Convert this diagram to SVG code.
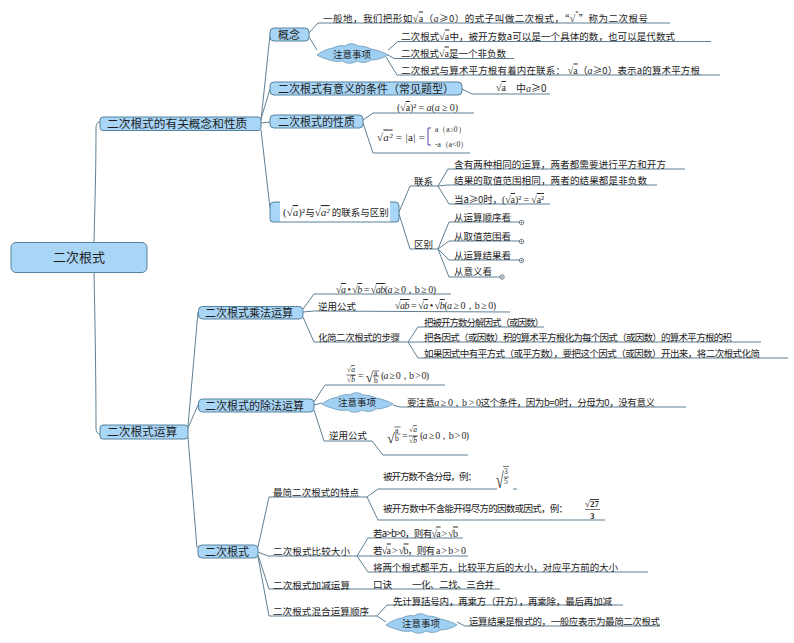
<svg xmlns="http://www.w3.org/2000/svg" width="794" height="643" viewBox="0 0 794 643">
<style>
text{font-family:"Noto Sans CJK SC","Liberation Sans",sans-serif;font-size:9.500px;fill:#1c1c1c}
.m{font-family:"Liberation Serif",serif;font-size:10px;fill:#2a2a2a}
.i{font-style:italic}
.o{text-decoration:overline}
.s7{font-size:7.500px}
.n1{font-size:11.700px}
.n2{font-size:11px}
.root{font-size:13px}
.box{fill:#a9d5f6;stroke:#55829e;stroke-width:1}
.cloud{fill:#9fd0f3;stroke:#6b96b4;stroke-width:.8}
#connectors path{fill:none;stroke:#5f7f93;stroke-width:1}
.dot{fill:#fff;stroke:#44586a;stroke-width:.8}
.mk{fill:#44586a}
.rl{stroke:#333;stroke-width:.7;fill:none}
</style>
<defs>
<path id="c" d="M0 12C5 8 10 6 16 5C20 3 24 2 28 3C32 0 37 0 41 3C46 3 50 4 54 6C60 7 66 9 71 12C66 15 60 17 54 17C50 20 44 20 40 18C35 21 30 21 26 18C20 19 14 18 10 16C6 15 3 14 0 12Z"/>
</defs>
<rect width="794" height="643" fill="#fff"/>
<g id="connectors">
<path d="M94 242C95 200 96 170 96 128Q96 122 100 122"/>
<path d="M94 272C95 320 96 380 96 428Q96 434 100 434"/>
<path d="M261 120L270 35M261 119L270 89M261 123L270 122M261 130L270 208"/>
<path d="M309 33L318 23H670M309 37L317 50"/>
<path d="M388 50L398 41.500H711M388 55L394 58.500H514M386 57L397 75H720"/>
<path d="M462 89L472 94H550"/>
<path d="M363 120L373 113H474M363 123L373 153H470"/>
<path d="M399 212L410 186H438L448 169H685M438 186L448 185H657M438 186L449 204H550"/>
<path d="M399 214L410 249H438L449 222H520M438 249L449 241H520M438 249L449 260H520M438 249L449 277H500"/>
<path d="M188 426L198 312M188 428L198 405M188 437L197 548"/>
<path d="M303 309L314 294H451M303 312L314 311L510 312M303 317L314 342H408"/>
<path d="M408 342L418 327H544M408 342L418 342H761M408 342L418 358H788"/>
<path d="M314 402L325 385H445M314 405L322 403M393 405L400 407H686"/>
<path d="M314 410L324 441H372L383 455H468"/>
<path d="M258 547L269 497H367L378 489H497M513 489H517M367 497L378 520H605"/>
<path d="M258 552L268 556H357L368 538H463M357 556L368 556H468M357 556L368 572H648"/>
<path d="M258 555L269 589H500M258 557L269 616H377L387 605H623M377 616L386 622M457 622L465 626H660"/>
</g>
<g id="root"><rect class="box" x="11" y="242.500" width="136" height="30" rx="5"/><text class="root" x="79" y="262" text-anchor="middle">二次根式</text></g>
<g id="n-gainian-xingzhi"><rect class="box" x="100" y="117" width="161" height="13.500" rx="3"/><text class="n1" x="107" y="128">二次根式的有关概念和性质</text></g>
<g id="n-yunsuan"><rect class="box" x="100" y="425" width="88" height="14" rx="3"/><text class="n1" x="107" y="436">二次根式运算</text></g>
<g id="n-gainian"><rect class="box" x="270" y="28" width="39" height="13" rx="4"/><text x="278" y="38.500" class="n2">概念</text></g>
<g id="c-1"><use href="#c" class="cloud" transform="translate(317 43)"/><text x="333" y="57.500">注意事项</text></g>
<g id="t-1"><text x="323" y="21.500" textLength="325">一般地，我们把形如<tspan class="m">√<tspan class="o">a</tspan></tspan>（<tspan class="m i">a</tspan>≥0）的式子叫做二次根式，“<tspan class="m">√<tspan class="o">  </tspan></tspan>”称为二次根号</text></g>
<g id="t-2"><text x="401" y="39.500" textLength="274">二次根式<tspan class="m">√<tspan class="o">a</tspan></tspan>中，被开方数a可以是一个具体的数，也可以是代数式</text></g>
<g id="t-3"><text x="401" y="56.500" textLength="105">二次根式<tspan class="m">√<tspan class="o">a</tspan></tspan>是一个非负数</text></g>
<g id="t-4"><text x="401" y="73.500" textLength="299">二次根式与算术平方根有着内在联系：<tspan class="m"> √<tspan class="o">a</tspan></tspan>（<tspan class="m i">a</tspan>≥0）表示a的算术平方根</text></g>
<g id="n-tiaojian"><rect class="box" x="270" y="82" width="192" height="13" rx="4"/><text class="n2" x="278" y="92.500">二次根式有意义的条件（常见题型）</text></g>
<g id="t-5"><text class="m" x="496" y="91">√<tspan class="o">a</tspan></text><text x="516" y="91.500" style="font-size:10px">中<tspan class="m i">a</tspan>≥0</text></g>
<g id="n-xingzhi"><rect class="box" x="270" y="115" width="93" height="13" rx="4"/><text class="n2" x="278" y="125.500">二次根式的性质</text></g>
<g id="t-6"><text class="m" x="397" y="111" textLength="61">(√<tspan class="o">a</tspan>)² = <tspan class="i">a</tspan>(<tspan class="i">a</tspan> ≥ 0)</text></g>
<g id="t-7"><text class="m" x="377" y="140.500" textLength="48" style="font-size:11px">√<tspan class="o i">a²</tspan> = |a| =</text><path d="M431 128H428V145H431" fill="none" stroke="#5b3fa8" stroke-width="1"/><text class="m s7" x="435" y="132">a（a≥0）</text><text class="m s7" x="435" y="146.500">-a（a&lt;0）</text></g>
<g id="n-lianxi-qubie"><path class="box" d="M270 222V206Q270 202 274 202H280V222ZM399 222V206Q399 202 395 202H390V222Z" style="stroke:none"/><path d="M280 202H274Q270 202 270 206V219Q270 222 273 222H396Q399 222 399 219V206Q399 202 395 202H390" fill="none" stroke="#55829e"/><text x="283" y="216"><tspan class="m" style="font-size:11px">(√<tspan class="o i">a</tspan>)²</tspan>与<tspan class="m" style="font-size:11px">√<tspan class="o i">a²</tspan></tspan> 的联系与区别</text></g>
<g id="t-lianxi"><text x="414" y="184.500">联系</text></g>
<g id="t-qubie"><text x="414" y="247.500">区别</text></g>
<g id="t-8"><text x="454" y="167.500" textLength="212">含有两种相同的运算，两者都需要进行平方和开方</text></g>
<g id="t-9"><text x="454" y="184" textLength="193">结果的取值范围相同，两者的结果都是非负数</text></g>
<g id="t-10"><text x="454" y="203" textLength="90">当a≥0时，<tspan class="m">(√<tspan class="o">a</tspan>)² = √<tspan class="o">a²</tspan></tspan></text></g>
<g id="t-11"><text x="454" y="220.500">从运算顺序看</text><circle class="dot" cx="521.500" cy="222.500" r="2.200"/><circle class="mk" cx="521.500" cy="222.500" r=".8"/></g>
<g id="t-12"><text x="454" y="239.500">从取值范围看</text><circle class="dot" cx="521.500" cy="241.500" r="2.200"/><circle class="mk" cx="521.500" cy="241.500" r=".8"/></g>
<g id="t-13"><text x="454" y="258.500">从运算结果看</text><circle class="dot" cx="521.500" cy="260.500" r="2.200"/><circle class="mk" cx="521.500" cy="260.500" r=".8"/></g>
<g id="t-14"><text x="454" y="274.500">从意义看</text><circle class="dot" cx="502" cy="277" r="2.200"/><circle class="mk" cx="502" cy="277" r=".8"/></g>
<g id="n-chengfa"><rect class="box" x="198.500" y="306.500" width="104.500" height="12.500" rx="4"/><text class="n2" x="205" y="316.500">二次根式乘法运算</text></g>
<g id="t-15"><text class="m" x="336" y="293" textLength="100">√<tspan class="o i">a</tspan> • √<tspan class="o i">b</tspan> = √<tspan class="o i">ab</tspan>(<tspan class="i">a</tspan> ≥ 0，b ≥ 0)</text></g>
<g id="t-16"><text x="318" y="309.500">逆用公式</text><text class="m" x="395" y="309" textLength="101">√<tspan class="o i">ab</tspan> = √<tspan class="o i">a</tspan> • √<tspan class="o i">b</tspan>(<tspan class="i">a</tspan> ≥ 0，b ≥ 0)</text></g>
<g id="t-17"><text x="318" y="341" textLength="82">化简二次根式的步骤</text></g>
<g id="t-18"><text x="424" y="325.500" textLength="120">把被开方数分解因式（或因数）</text></g>
<g id="t-19"><text x="424" y="340.500" textLength="308">把各因式（或因数）积的算术平方根化为每个因式（或因数）的算术平方根的积</text></g>
<g id="t-20"><text x="424" y="356.500" textLength="336">如果因式中有平方式（或平方数），要把这个因式（或因数）开出来，将二次根式化简</text></g>
<g id="n-chufa"><rect class="box" x="198.500" y="399" width="115.500" height="13" rx="4"/><text class="n2" x="205" y="409.500">二次根式的除法运算</text></g>
<g id="t-21"><text class="m s7" x="347" y="372">√<tspan class="o i">a</tspan></text><path class="rl" d="M346.500 375H356"/><text class="m s7" x="347" y="382">√<tspan class="o i">b</tspan></text><text class="m" x="358" y="379">=</text><text class="m" x="365.500" y="382" style="font-size:14px">√</text><path class="rl" d="M373 371H379M373 376H379"/><text class="m s7" x="374" y="375.500">a</text><text class="m s7" x="374" y="382.500">b</text><text class="m" x="381" y="379" textLength="48">(<tspan class="i">a</tspan> ≥ 0，b &gt; 0)</text></g>
<g id="c-2"><use href="#c" class="cloud" transform="translate(322 392)"/><text x="338" y="406">注意事项</text></g>
<g id="t-22"><text x="407" y="405.500" textLength="248">要注意<tspan class="m i">a</tspan><tspan class="m"> ≥ 0，b &gt; 0</tspan>这个条件，因为b=0时，分母为0，没有意义</text></g>
<g id="t-23"><text x="329" y="438.500">逆用公式</text><text class="m" x="387" y="443" style="font-size:14px">√</text><path class="rl" d="M394.500 427H400.500M394.500 434H400.500"/><text class="m s7" x="395" y="433">a</text><text class="m s7" x="395" y="441">b</text><text class="m" x="402" y="439">=</text><text class="m s7" x="409" y="432">√<tspan class="o i">a</tspan></text><path class="rl" d="M408.500 436H418"/><text class="m s7" x="409" y="443">√<tspan class="o i">b</tspan></text><text class="m" x="420" y="439" textLength="49">(<tspan class="i">a</tspan> ≥ 0，b &gt; 0)</text></g>
<g id="n-genshi"><rect class="box" x="198" y="545" width="60" height="13" rx="4"/><text class="n2" x="205" y="555.500">二次根式</text></g>
<g id="t-24"><text x="273" y="495.500" textLength="86">最简二次根式的特点</text></g>
<g id="t-25"><text x="383" y="479.500" textLength="94">被开方数不含分母，例：</text><text class="m" transform="translate(496 488) scale(1 1.600)" style="font-size:14px">√</text><path class="rl" d="M503 466.500H509M504 477H509"/><text class="m s7" x="504" y="474">3</text><text class="m s7" x="504" y="484">5</text></g>
<g id="t-26"><text x="383" y="511.500" textLength="185">被开方数中不含能开得尽方的因数或因式，例：</text><text class="m" x="585" y="507" style="font-weight:bold;font-size:9px">√<tspan class="o">27</tspan></text><path class="rl" d="M585 509.500H600"/><text class="m" x="590" y="518.500" style="font-weight:bold;font-size:9px">3</text></g>
<g id="t-27"><text x="273" y="554.500" textLength="77">二次根式比较大小</text></g>
<g id="t-28"><text x="373" y="536.500" textLength="85">若a&gt;b&gt;0，则有<tspan class="m">√<tspan class="o">a</tspan> &gt; √<tspan class="o">b</tspan></tspan></text></g>
<g id="t-29"><text x="373" y="553.500" textLength="93">若<tspan class="m">√<tspan class="o">a</tspan> &gt; √<tspan class="o">b</tspan></tspan>，则有<tspan class="m"> a &gt; b &gt; 0</tspan></text></g>
<g id="t-30"><text x="373" y="570.500" textLength="245">将两个根式都平方，比较平方后的大小，对应平方前的大小</text></g>
<g id="t-31"><text x="273" y="588.500" textLength="77">二次根式加减运算</text><text x="373" y="588">口诀</text><text x="412" y="588" textLength="82">一化、二找、三合并</text></g>
<g id="t-32"><text x="273" y="614.500" textLength="96">二次根式混合运算顺序</text></g>
<g id="t-33"><text x="393" y="604.500" textLength="219">先计算括号内，再乘方（开方），再乘除，最后再加减</text></g>
<g id="c-3"><use href="#c" class="cloud" transform="translate(386 613)"/><text x="402" y="626.500">注意事项</text></g>
<g id="t-34"><text x="469" y="624.500" textLength="191">运算结果是根式的，一般应表示为最简二次根式</text></g>
</svg>
